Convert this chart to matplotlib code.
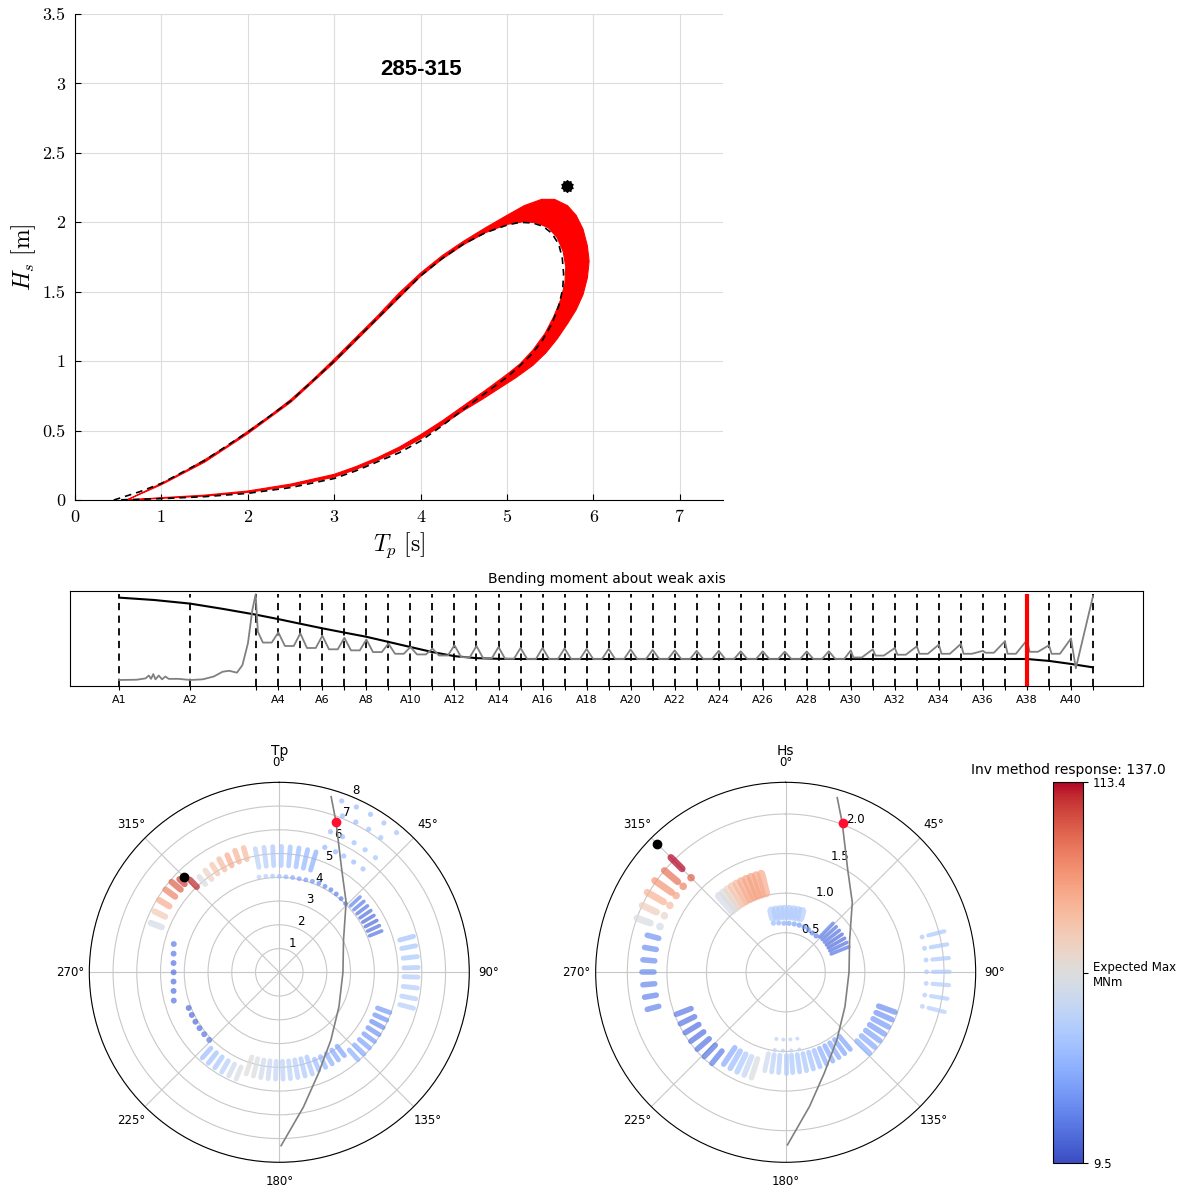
import numpy as np
import matplotlib
matplotlib.use("Agg")
import matplotlib.pyplot as plt
from matplotlib import colors, cm

plt.rcParams['mathtext.fontset'] = 'cm'

# ---------------- top panel: Hs-Tp contour (285-315) ----------------
outer_tp = [0.6, 0.8, 1.0, 1.25, 1.5, 1.75, 2.0, 2.25, 2.5, 2.75, 3.0, 3.25, 3.5, 3.75, 4.0, 4.25,
            4.5, 4.75, 5.0, 5.2, 5.4, 5.55, 5.7, 5.8, 5.88, 5.93, 5.95, 5.93, 5.88, 5.8, 5.7, 5.58,
            5.45, 5.3, 5.1, 4.9, 4.7, 4.5, 4.25, 4.0, 3.75, 3.5, 3.25, 3.0, 2.5, 2.0, 1.5, 1.0, 0.6]
outer_hs = [0.0, 0.06, 0.12, 0.2, 0.29, 0.385, 0.495, 0.605, 0.725, 0.865, 1.015, 1.17, 1.325,
            1.49, 1.635, 1.76, 1.865, 1.96, 2.05, 2.12, 2.165, 2.165, 2.12, 2.05, 1.95, 1.83, 1.72,
            1.60, 1.48, 1.37, 1.27, 1.16, 1.06, 0.97, 0.88, 0.80, 0.72, 0.645, 0.54, 0.44, 0.355,
            0.285, 0.22, 0.165, 0.10, 0.055, 0.028, 0.012, 0.0]
inner_tp = [0.6, 1.0, 1.5, 2.0, 2.5, 3.0, 3.5, 4.0, 4.25, 4.5, 4.75, 5.0, 5.2, 5.35, 5.48, 5.58,
            5.65, 5.68, 5.67, 5.62, 5.54, 5.44, 5.3, 5.15, 5.0, 4.75, 4.5, 4.25, 4.0, 3.75, 3.5,
            3.25, 3.0, 2.5, 2.0, 1.5, 1.0, 0.6]
inner_hs = [0.0, 0.11, 0.272, 0.477, 0.705, 0.99, 1.30, 1.61, 1.735, 1.84, 1.925, 1.985, 2.005,
            1.995, 1.96, 1.89, 1.79, 1.68, 1.56, 1.44, 1.32, 1.2, 1.08, 0.98, 0.905, 0.79, 0.68,
            0.57, 0.47, 0.38, 0.305, 0.24, 0.185, 0.115, 0.065, 0.035, 0.017, 0.0]
dash_tp = [0.45, 0.75, 1.0, 1.5, 2.0, 2.5, 3.0, 3.5, 4.0, 4.25, 4.5, 4.75, 5.0, 5.15, 5.3, 5.42,
           5.52, 5.6, 5.64, 5.655, 5.645, 5.6, 5.52, 5.4, 5.27, 5.12, 5.0, 4.75, 4.5, 4.25, 4.0,
           3.75, 3.5, 3.25, 3.0, 2.5, 2.0, 1.5, 1.0, 0.45]
dash_hs = [0.0, 0.06, 0.12, 0.285, 0.49, 0.715, 1.0, 1.31, 1.615, 1.74, 1.845, 1.925, 1.98, 2.0,
           1.995, 1.97, 1.92, 1.84, 1.74, 1.63, 1.52, 1.40, 1.27, 1.14, 1.04, 0.95, 0.885, 0.77,
           0.655, 0.535, 0.425, 0.34, 0.275, 0.21, 0.155, 0.09, 0.048, 0.024, 0.01, 0.0]
design_tp, design_hs = 5.7, 2.26

# ---------------- middle panel: bending moment along nodes ----------------
node_pos = [0.0, 3.23, 6.23, 7.23, 8.23, 9.23, 10.23, 11.23, 12.23, 13.23, 14.23, 15.23, 16.23,
            17.23, 18.23, 19.23, 20.23, 21.23, 22.23, 23.23, 24.23, 25.23, 26.23, 27.23, 28.23,
            29.23, 30.23, 31.23, 32.23, 33.23, 34.23, 35.23, 36.23, 37.23, 38.23, 39.23, 40.23,
            41.23, 42.23, 43.23, 44.23]
node_names = ['A%d' % i for i in range(1, 42)]
# capacity curve: A1, mid, A2, mid, A3, then A4..A41
capacity_x = [0.0, 1.6, 3.23, 4.7, 6.23] + node_pos[3:]
capacity = [0.93, 0.905, 0.867, 0.812, 0.75,                        # A1 .. A3
            0.704, 0.655, 0.607, 0.562, 0.518, 0.464, 0.41, 0.357,  # A4 .. A11
            0.314, 0.293, 0.286,                                    # A12 .. A14
            0.284, 0.284, 0.284, 0.284, 0.284, 0.284, 0.284, 0.284, # A15 .. A22
            0.284, 0.284, 0.284, 0.284, 0.284, 0.284, 0.284, 0.284, # A23 .. A30
            0.284, 0.284, 0.284, 0.284, 0.284, 0.284, 0.284, 0.284, # A31 .. A38
            0.264, 0.232, 0.196]                                    # A39 .. A41
# response before node A3 (x, value)
resp_start_x = [0.0, 0.8, 1.2, 1.35, 1.45, 1.55, 1.65, 1.8, 1.95, 2.1, 2.25, 2.7, 3.23, 3.8, 4.3,
                4.7, 5.0, 5.35, 5.6, 5.85, 6.05, 6.2, 6.3]
resp_start_y = [0.063, 0.066, 0.08, 0.11, 0.075, 0.125, 0.07, 0.11, 0.07, 0.1, 0.075, 0.075, 0.063,
                0.07, 0.1, 0.15, 0.16, 0.14, 0.22, 0.45, 0.8, 0.965, 0.571]
# valleys between A3..A40 and peaks at A4..A40
resp_valley = [0.457, 0.421, 0.40, 0.386, 0.375, 0.357, 0.339, 0.332, 0.321, 0.304, 0.293, 0.286,
               0.284, 0.284, 0.284, 0.284, 0.284, 0.284, 0.284, 0.284, 0.284, 0.284, 0.284,
               0.284, 0.284, 0.284, 0.284, 0.30, 0.32, 0.329, 0.339, 0.339, 0.339, 0.35, 0.339,
               0.36, 0.339]
resp_peak = [0.564, 0.554, 0.529, 0.507, 0.489, 0.446, 0.41, 0.393, 0.429, 0.421, 0.41, 0.40,
             0.40, 0.395, 0.39, 0.39, 0.385, 0.38, 0.375, 0.37, 0.37, 0.365, 0.365, 0.362, 0.364,
             0.366, 0.375, 0.386, 0.40, 0.418, 0.436, 0.443, 0.37, 0.471, 0.482, 0.429, 0.50]
resp_end_x = [43.45, 44.23]
resp_end_y = [0.186, 0.946]
critical_node = 'A38'

# ---------------- polar panels: (direction deg, r low, r high, response) ----------------
tp_red_th = [291, 296, 301, 306, 310, 313, 316]
tp_red_lo = [5.30, 5.35, 5.40, 5.42, 5.42, 5.45, 5.00]
tp_red_hi = [5.80, 5.85, 5.90, 5.92, 5.92, 5.75, 5.42]
tp_red_val = [58, 72, 82, 92, 100, 106, 110]
tp_nw_th = [320, 324, 328, 332, 336, 340, 344]
tp_nw_lo = [4.85, 4.85, 4.9, 4.9, 4.92, 4.95, 4.95]
tp_nw_hi = [5.25, 5.3, 5.35, 5.4, 5.4, 5.45, 5.45]
tp_nw_val = [60, 68, 74, 78, 82, 80, 78]
tp_n_th = [349, 353, 357, 1, 5, 9, 13, 17]
tp_n_val = [50, 48, 46, 44, 42, 40, 38, 36]
tp_arc_th = [348, 352, 356, 0, 4, 8, 12, 16, 20, 24, 28, 32, 36, 40, 44]
tp_arc_r = [4.1, 4.08, 4.06, 4.04, 4.03, 4.03, 4.03, 4.05, 4.08, 4.1, 4.1, 4.1, 4.08, 4.05, 4.02]
tp_arc_val = [50, 48, 45, 42, 38, 35, 32, 30, 28, 26, 25, 24, 23, 22, 21]
tp_ne_th = [47, 50, 53, 56, 59, 62, 65, 68]
tp_ne_val = [24, 22, 20, 19, 18, 18, 19, 20]
tp_far_th = [20, 25, 30, 35, 40, 22, 27, 32, 37, 20, 25, 30, 35, 40, 20, 25, 29, 34, 39]
tp_far_r = [7.68, 7.68, 7.68, 7.68, 7.68, 7.1, 7.1, 7.1, 7.1, 6.3, 6.3, 6.3, 6.3, 6.3,
            5.6, 5.6, 5.6, 5.6, 5.6]
tp_far_val = [40, 40, 41, 42, 43, 40, 41, 42, 43, 40, 41, 42, 43, 44, 38, 39, 40, 41, 42]
tp_e_th = [75, 79, 83.5, 88, 92, 96.5, 101, 105]
tp_e_val = [42, 44, 45, 46, 47, 47, 48, 48]
tp_se_th = [110, 114, 118, 122, 126, 130, 134, 138]
tp_se_val = [30, 28, 26, 28, 30, 32, 34, 36]
tp_sse_th = [142, 146, 150, 154, 158]
tp_sse_val = [32, 34, 36, 38, 40]
tp_s_th = [162, 166, 170, 174, 178, 182, 186, 190, 194, 198]
tp_s_val = [44, 46, 48, 50, 50, 52, 54, 56, 60, 62]
tp_sw_th = [202, 206, 210, 214, 218, 222]
tp_sw_val = [60, 55, 48, 44, 42, 40]
tp_wsw_th = [226, 230.5, 235, 239.5, 244, 248.5]
tp_wsw_val = [22, 20, 19, 18, 18, 18]
tp_w_th = [255, 260, 265, 270, 275, 280, 285]
tp_w_r = [4.6, 4.52, 4.47, 4.45, 4.47, 4.52, 4.6]
tp_w_val = [20, 19, 19, 19, 20, 21, 22]

hs_red_th = [290, 295, 300, 305, 310, 315]
hs_red_lo = [1.82, 1.8, 1.78, 1.76, 1.78, 1.85]
hs_red_hi = [2.0, 2.0, 2.02, 2.02, 2.0, 2.05]
hs_red_val = [60, 70, 80, 88, 96, 113]
hs_redin_val = [58, 66, 76, 84, 92, 100]
hs_w_th = [255, 260, 265, 270, 275, 280, 285]
hs_w_val = [24, 24, 25, 25, 26, 27, 28]
hs_sw_th = [219, 224, 229, 234, 239, 244, 249]
hs_sw_val = [22, 20, 20, 19, 19, 20, 21]
hs_ssw_th = [198, 202, 206, 210, 214]
hs_ssw_val = [60, 52, 45, 40, 35]
hs_s_th = [140, 144, 148, 152, 156, 160, 164, 168, 172, 176, 180, 184, 188, 192]
hs_s_val = [32, 32, 34, 34, 36, 40, 42, 44, 44, 45, 46, 48, 50, 55]
hs_se_th = [110, 114, 118, 122, 126, 130, 134]
hs_se_val = [26, 28, 30, 30, 32, 34, 36]
hs_faint_th = [170, 176, 182, 188]
hs_faint_val = [50, 50, 50, 50]
hs_e_th = [75.5, 80.2, 85, 89.8, 94.5, 99.3, 104]
hs_e_val = [45, 45, 46, 46, 47, 47, 48]
hs_ne_th = [44, 48, 52, 56, 60, 64, 68]
hs_ne_val = [22, 20, 19, 18, 18, 19, 20]
hs_arc_th = [346, 352, 358, 4, 10, 16, 22, 28, 34, 40]
hs_arc_r = [0.64, 0.63, 0.62, 0.62, 0.62, 0.62, 0.62, 0.61, 0.6, 0.6]
hs_arc_val = [40, 38, 36, 34, 32, 30, 28, 26, 25, 24]
hs_box_th = [347, 351, 355, 359, 3, 7, 11, 15]
hs_box_val = [47, 47, 47, 47, 47, 47, 47, 47]
hs_or_th = [319, 322, 325, 328, 331, 334, 337, 340, 343, 346]
hs_or_val = [58, 62, 68, 74, 78, 82, 84, 85, 84, 82]

line_th = [16.45, 20.7, 31.3, 43.6, 63.2, 90, 120, 142.8, 158.9, 169.9, 179.4]
tp_line_r = [7.71, 6.76, 5.06, 4.08, 3.03, 2.68, 2.90, 3.59, 4.57, 5.77, 7.30]
hs_line_r = [2.30, 2.02, 1.51, 1.22, 0.905, 0.80, 0.865, 1.07, 1.36, 1.72, 2.18]
tp_red_pt, hs_red_pt = (20.7, 6.76), (20.85, 2.02)
tp_black_pt, hs_black_pt = (315, 5.68), (315, 2.29)

vmin, vmax = 9.5, 113.4
inv_response = 137.0

# ======================================================================
fig = plt.figure(figsize=(11.77, 11.86), dpi=100)

ax1 = fig.add_axes([0.0637, 0.5784, 0.5506, 0.4098])
band_x = outer_tp + inner_tp[::-1]
band_y = outer_hs + inner_hs[::-1]
ax1.fill(band_x, band_y, facecolor='red', edgecolor='red', lw=0.8, zorder=3)
ax1.plot(dash_tp, dash_hs, color='k', ls='--', dashes=(4, 3), lw=1.2, zorder=4)
ax1.plot([design_tp], [design_hs], marker=(10, 1, 0), ms=9, color='k', zorder=5)
ax1.plot([design_tp], [design_hs], marker='o', ms=7, color='k', zorder=5)
ax1.text(4.0, 3.1, '285-315', fontsize=16, fontweight='bold', family='Liberation Sans',
         ha='center', va='center')
ax1.set_xlim(0, 7.5)
ax1.set_ylim(0, 3.5)
ax1.set_xticks(range(8))
ax1.set_xticklabels([str(v) for v in range(8)])
ax1.set_yticks(np.arange(0, 3.51, 0.5))
ax1.set_yticklabels(['0', '0.5', '1', '1.5', '2', '2.5', '3', '3.5'])
for lab in ax1.get_xticklabels() + ax1.get_yticklabels():
    lab.set_fontfamily('cmr10')
ax1.tick_params(direction='in', length=4, labelsize=13, pad=7)
ax1.grid(True, color='#dcdcdc', lw=0.8)
ax1.set_axisbelow(True)
for s in ['top', 'right']:
    ax1.spines[s].set_visible(False)
ax1.set_xlabel(r'$T_p\ [\mathrm{s}]$', fontsize=17, labelpad=4)
ax1.set_ylabel(r'$H_s\ [\mathrm{m}]$', fontsize=17, labelpad=3)

# middle strip
ax2 = fig.add_axes([0.0595, 0.4216, 0.9116, 0.0801])
ax2.vlines(node_pos, 0, 0.965, colors='k', linestyles=(0, (4, 3)), lw=1.3, zorder=2)
ax2.plot(capacity_x, capacity, color='k', lw=1.5, zorder=3)
resp_x = list(resp_start_x)
resp_y = list(resp_start_y)
for i in range(len(resp_peak)):
    # symmetric scallops up to A30, saw-tooth shaped spans after it
    lo, hi = (0.3, 0.7) if i < 27 else (0.12, 0.5)
    resp_x += [node_pos[2 + i] + lo, node_pos[2 + i] + hi, node_pos[3 + i]]
    resp_y += [resp_valley[i], resp_valley[i], resp_peak[i]]
resp_x += resp_end_x
resp_y += resp_end_y
ax2.plot(resp_x, resp_y, color='#808080', lw=1.3, zorder=3)
crit = node_pos[node_names.index(critical_node)]
ax2.vlines([crit], 0, 0.965, colors='red', lw=3, zorder=4)
ax2.set_xlim(-2.23, 46.5)
ax2.set_ylim(0, 1)
ax2.set_yticks([])
ax2.set_xticks(node_pos)
ax2.set_xticklabels([n if (i < 2 or i % 2 == 1) else '' for i, n in enumerate(node_names)])
ax2.tick_params(axis='x', labelsize=8, length=3)
ax2.set_title('Bending moment about weak axis', fontsize=10)

# polar panels
cmap = plt.get_cmap('coolwarm')
norm = colors.Normalize(vmin=vmin, vmax=vmax)


def streaks(ax, th, rlo, rhi, val, lw=4.0):
    lc = ax.vlines(np.radians(th), rlo, rhi, colors=cmap(norm(np.asarray(val, float))),
                   lw=lw, alpha=0.72, zorder=3)
    lc.set_capstyle('round')


def dots(ax, th, r, val, s=14):
    r = np.broadcast_to(np.asarray(r, float), np.shape(th))
    ax.scatter(np.radians(th), r, c=val, cmap=cmap, norm=norm, s=s, alpha=0.72,
               edgecolors='none', zorder=3)


def setup_polar(ax, rmax, rticks, rlabels, title):
    ax.set_theta_zero_location('N')
    ax.set_theta_direction(-1)
    ax.set_ylim(0, rmax)
    ax.set_yticks(rticks)
    ax.set_yticklabels(rlabels)
    ax.set_rlabel_position(22.5)
    ax.set_thetagrids(np.arange(0, 360, 45))
    ax.tick_params(labelsize=8.5)
    ax.grid(True, color='#c8c8c8', lw=0.8)
    ax.set_title(title, fontsize=10, y=1.072, pad=0)


axp1 = fig.add_axes([0.07587, 0.01998, 0.32285, 0.3204], projection='polar')
setup_polar(axp1, 8, list(range(1, 9)), [str(v) for v in range(1, 9)], 'Tp')
streaks(axp1, tp_red_th, tp_red_lo, tp_red_hi, tp_red_val, lw=4.5)
streaks(axp1, tp_nw_th, tp_nw_lo, tp_nw_hi, tp_nw_val)
streaks(axp1, tp_n_th, 4.5, 5.3, tp_n_val, lw=3.5)
dots(axp1, tp_arc_th, tp_arc_r, tp_arc_val, s=12)
streaks(axp1, tp_ne_th, 4.1, 4.65, tp_ne_val, lw=2.6)
dots(axp1, tp_far_th, tp_far_r, tp_far_val, s=14)
streaks(axp1, tp_e_th, 5.25, 5.85, tp_e_val, lw=3.5)
streaks(axp1, tp_se_th, 4.4, 4.95, tp_se_val, lw=3.5)
streaks(axp1, tp_sse_th, 3.95, 4.45, tp_sse_val, lw=3.5)
streaks(axp1, tp_s_th, 3.75, 4.5, tp_s_val, lw=3.5)
streaks(axp1, tp_sw_th, 4.3, 4.85, tp_sw_val, lw=3.5)
dots(axp1, tp_wsw_th, 4.1, tp_wsw_val, s=18)
dots(axp1, tp_w_th, tp_w_r, tp_w_val, s=18)
axp1.plot(np.radians(line_th), tp_line_r, color='gray', lw=1.2, zorder=4)
axp1.plot(np.radians(tp_red_pt[0]), tp_red_pt[1], 'o', color='#ff1030', ms=6, zorder=5)
axp1.plot(np.radians(tp_black_pt[0]), tp_black_pt[1], 'o', color='k', ms=6, zorder=5)

axp2 = fig.add_axes([0.5061, 0.01998, 0.32285, 0.3204], projection='polar')
setup_polar(axp2, 2.4, [0.5, 1.0, 1.5, 2.0], ['0.5', '1.0', '1.5', '2.0'], 'Hs')
streaks(axp2, hs_red_th, hs_red_lo, hs_red_hi, hs_red_val, lw=5)
dots(axp2, hs_red_th, 1.69, hs_redin_val, s=30)
streaks(axp2, hs_w_th, 1.66, 1.81, hs_w_val)
streaks(axp2, hs_sw_th, 1.28, 1.48, hs_sw_val)
streaks(axp2, hs_ssw_th, 1.15, 1.4, hs_ssw_val)
streaks(axp2, hs_s_th, 1.05, 1.27, hs_s_val, lw=3.5)
streaks(axp2, hs_se_th, 1.25, 1.47, hs_se_val)
dots(axp2, hs_faint_th, 0.85, hs_faint_val, s=8)
dots(axp2, hs_faint_th, 0.99, hs_faint_val, s=8)
dots(axp2, hs_e_th, 1.78, hs_e_val, s=12)
streaks(axp2, hs_e_th, 1.86, 2.07, hs_e_val, lw=3)
streaks(axp2, hs_ne_th, 0.62, 0.86, hs_ne_val, lw=2.6)
dots(axp2, hs_arc_th, hs_arc_r, hs_arc_val)
streaks(axp2, hs_box_th, 0.71, 0.80, hs_box_val, lw=6)
streaks(axp2, hs_or_th, 1.03, 1.28, hs_or_val, lw=6)
axp2.plot(np.radians(line_th), hs_line_r, color='gray', lw=1.2, zorder=4)
axp2.plot(np.radians(hs_red_pt[0]), hs_red_pt[1], 'o', color='#ff1030', ms=6, zorder=5)
axp2.plot(np.radians(hs_black_pt[0]), hs_black_pt[1], 'o', color='k', ms=6, zorder=5)

# colorbar
cax = fig.add_axes([0.8949, 0.0191, 0.0255, 0.3212])
sm = cm.ScalarMappable(norm=norm, cmap=cmap)
cb = fig.colorbar(sm, cax=cax, ticks=[vmin, (vmin + vmax) / 2, vmax])
cb.ax.set_yticklabels(['%.1f' % vmin, 'Expected Max\nMNm', '%.1f' % vmax], fontsize=8.5)
cb.outline.set_linewidth(0.8)
cax.set_title('Inv method response: %.1f' % inv_response, fontsize=10)

fig.savefig('out.png', dpi=100)
